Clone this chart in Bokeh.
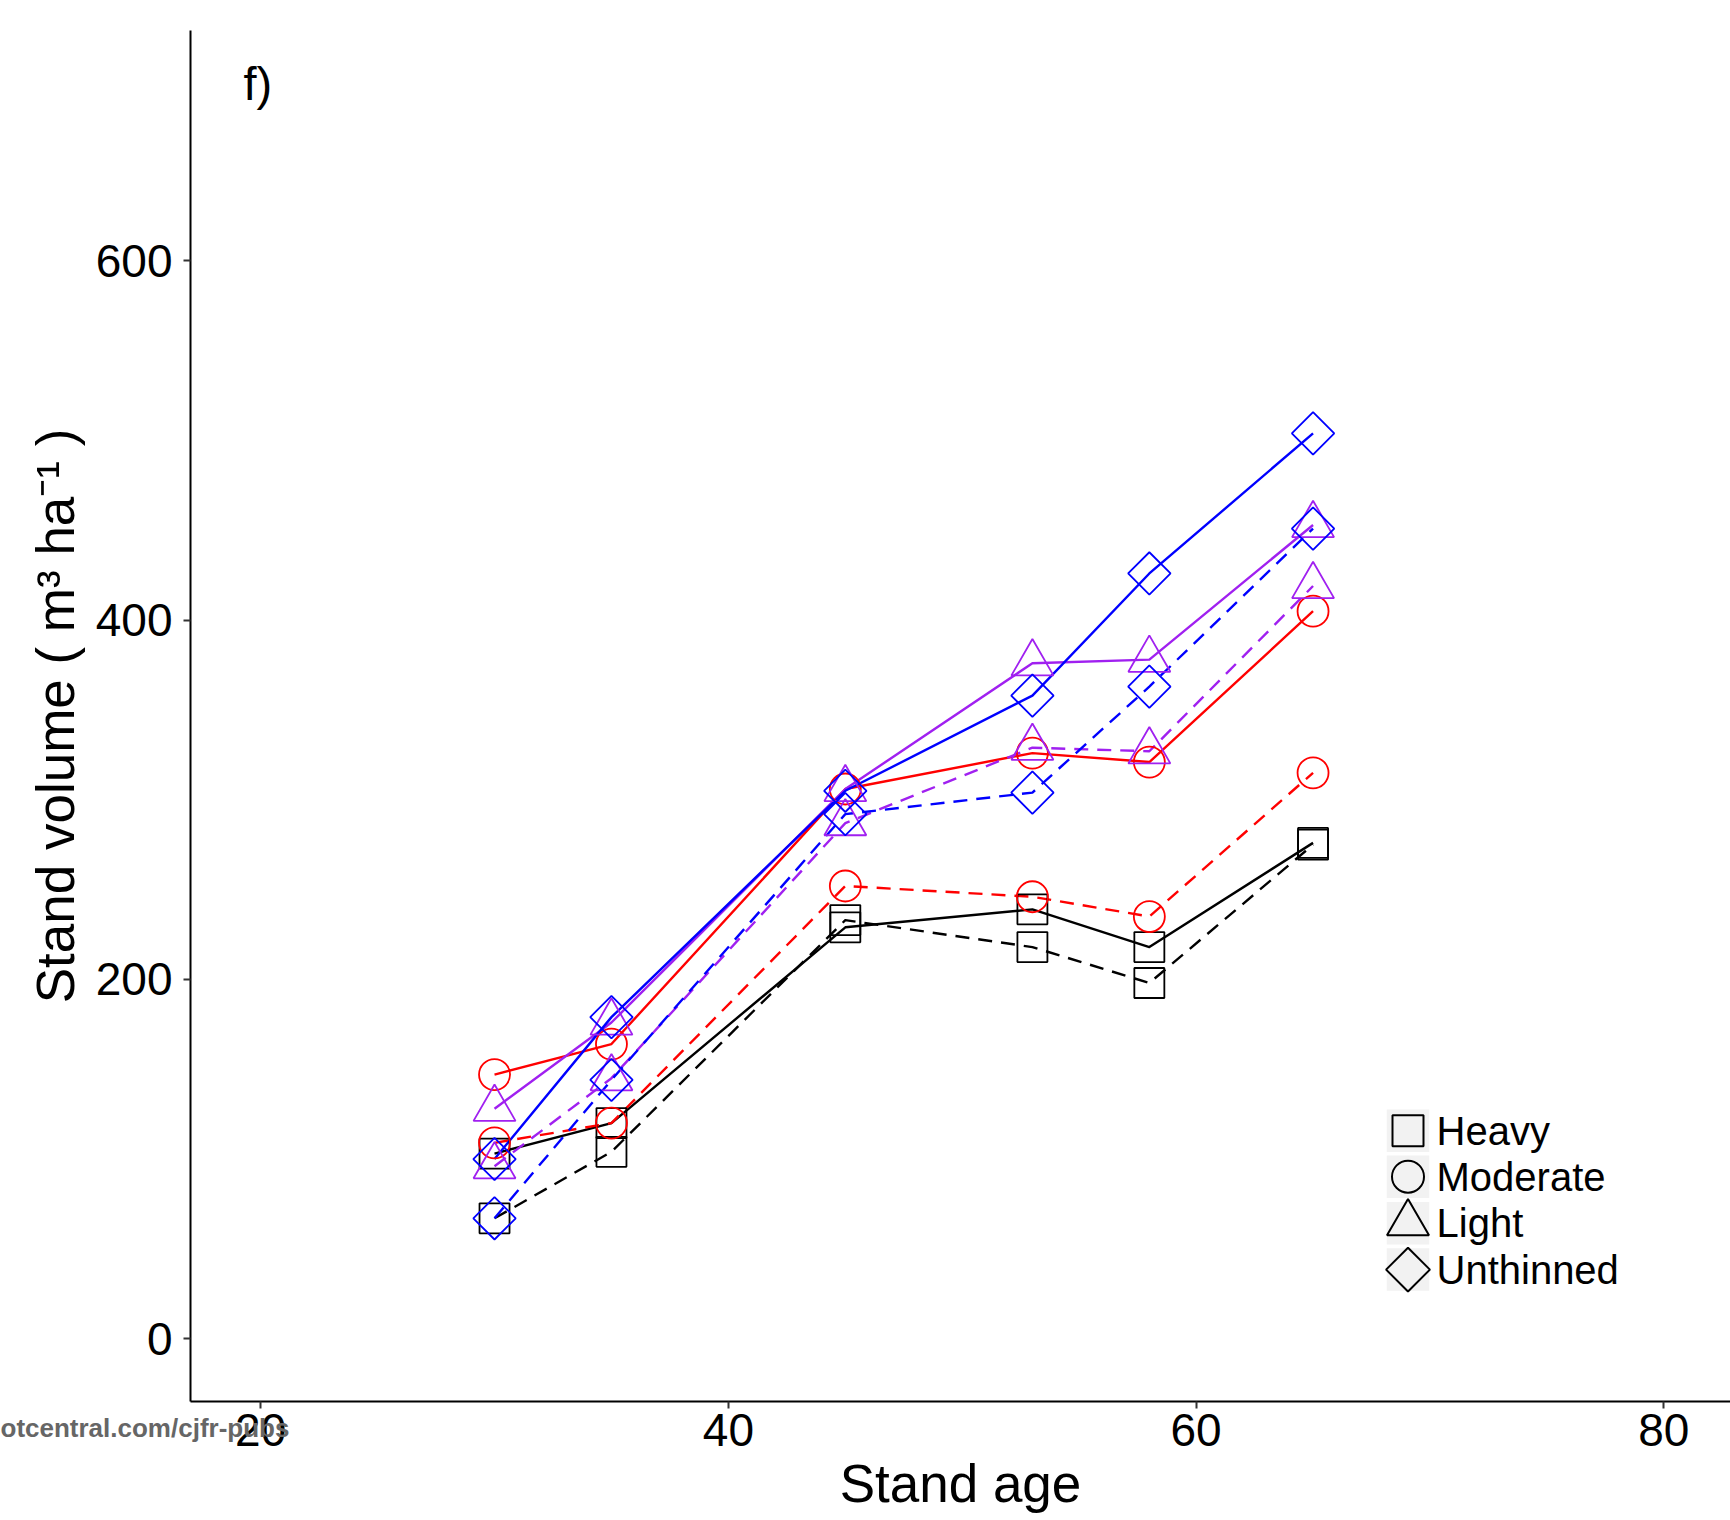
import numpy as np
from bokeh.plotting import figure
from bokeh.models import Range1d, FixedTicker, Label
from bokeh.core.properties import value
from bokeh.embed import file_html
from bokeh.resources import INLINE

# ---------------- data ----------------
ages = [30, 35, 45, 53, 58, 65]
treatments = ["Heavy", "Moderate", "Light", "Unthinned"]

heavy_solid = [103, 120, 229, 239, 218, 276]
heavy_dashed = [67, 104, 233, 218, 198, 275]
moderate_solid = [147, 164, 306, 326, 321, 405]
moderate_dashed = [109, 120, 252, 246, 235, 315]
light_solid = [128, 176, 306, 376, 378, 453]
light_dashed = [96, 145, 287, 329, 327, 419]
unthinned_solid = [100, 179, 305, 358, 426, 504]
unthinned_dashed = [67, 144, 292, 304, 363, 451]

x_ticks = [20, 40, 60, 80]
y_ticks = [0, 200, 400, 600]

# ---------------- styles ----------------
colors = {"Heavy": "#000000", "Moderate": "#FF0000", "Light": "#A020F0", "Unthinned": "#0000FF"}
markers = {"Heavy": "square", "Moderate": "circle", "Light": "triangle", "Unthinned": "square"}
angles = {"Heavy": 0.0, "Moderate": 0.0, "Light": 0.0, "Unthinned": np.pi / 4}
sizes = {"Heavy": 30, "Moderate": 31, "Light": 42, "Unthinned": 30}
legend_sizes = {"Heavy": 31, "Moderate": 32, "Light": 42, "Unthinned": 31}

series = [
    ("Heavy", heavy_solid, heavy_dashed),
    ("Moderate", moderate_solid, moderate_dashed),
    ("Light", light_solid, light_dashed),
    ("Unthinned", unthinned_solid, unthinned_dashed),
]

W, H = 1730, 1520
LEFT, RIGHT, TOP, BOTTOM = 190, 0, 29, 119
PX_PER_UNIT_Y = 1.7975
X0, X1 = 17.0, 82.85
Y0 = -35.0
Y1 = Y0 + (H - TOP - BOTTOM) / PX_PER_UNIT_Y
FONT = "Liberation Sans"

def px_x(px):
    return X0 + (px - LEFT) * (X1 - X0) / (W - LEFT - RIGHT)

def px_y(py):
    return Y1 - (py - TOP) / PX_PER_UNIT_Y

p = figure(width=W, height=H, output_backend="svg", toolbar_location=None,
           x_range=Range1d(X0, X1), y_range=Range1d(Y0, Y1),
           min_border_left=LEFT, min_border_right=RIGHT,
           min_border_top=TOP, min_border_bottom=BOTTOM)
p.outline_line_color = None
p.xgrid.visible = False
p.ygrid.visible = False
p.background_fill_color = "white"
p.border_fill_color = "white"

# lines
for name, solid, dashed in series:
    c = colors[name]
    p.line(ages, dashed, line_color=c, line_width=2.4, line_dash="14 9", line_join="round")
    p.line(ages, solid, line_color=c, line_width=2.4, line_join="round")

# markers
for name, solid, dashed in series:
    c = colors[name]
    for vals in (solid, dashed):
        p.scatter(ages, vals, marker=markers[name], size=sizes[name], angle=angles[name],
                  fill_alpha=0, line_color=c, line_width=1.8)

# axes
for ax in (p.xaxis[0], p.yaxis[0]):
    ax.axis_line_color = "black"
    ax.axis_line_width = 2
    ax.major_tick_in = 0
    ax.major_tick_out = 7
    ax.major_tick_line_color = "#333333"
    ax.major_tick_line_width = 2
    ax.minor_tick_line_color = None
    ax.major_label_text_font = FONT
    ax.major_label_text_font_size = "46px"
    ax.major_label_text_color = "black"
    ax.axis_label_text_font = FONT
    ax.axis_label_text_font_size = "53px"
    ax.axis_label_text_font_style = "normal"
    ax.axis_label_text_color = "black"

p.xaxis.ticker = FixedTicker(ticks=x_ticks)
p.yaxis.ticker = FixedTicker(ticks=y_ticks)
p.xaxis.axis_label = "Stand age"
p.yaxis.axis_label = "Stand volume ( m\u00b3 ha\u207b\u00b9 )"
p.xaxis.major_label_standoff = 5
p.xaxis.axis_label_standoff = 5
p.yaxis.major_label_standoff = 11
p.yaxis.axis_label_standoff = 8

# panel tag
p.add_layout(Label(x=px_x(243), y=px_y(82), text="f)", text_font=FONT,
                   text_font_size="47px", text_color="black",
                   text_baseline="alphabetic", text_align="left"))

# watermark (lives in the top side panel so it is not clipped to the frame)
p.add_layout(Label(x=px_x(0), y=px_y(1428), text="otcentral.com/cjfr-pubs", text_font=FONT,
                   text_font_size="26px", text_font_style="bold", text_color="#666666",
                   text_baseline="alphabetic", text_align="left"), "above")

# legend (manual)
leg_rows_px = [1130, 1176, 1222.5, 1269]
leg_x = px_x(1407.5)
leg_text_x = px_x(1436)
leg_ys = [px_y(v) for v in leg_rows_px]
p.scatter([leg_x] * 4, leg_ys, marker="square", size=42.5, fill_color="#F2F2F2", line_color=None)
for name, ly in zip(treatments, leg_ys):
    p.scatter([leg_x], [ly], marker=markers[name], size=legend_sizes[name], angle=angles[name],
              fill_alpha=0, line_color="black", line_width=2)
p.text(x=[leg_text_x] * 4, y=leg_ys, text=treatments, text_font=value(FONT),
       text_font_size="40px", text_color="black", text_baseline="middle", text_align="left")

open("out.html", "w").write(file_html(p, INLINE))
